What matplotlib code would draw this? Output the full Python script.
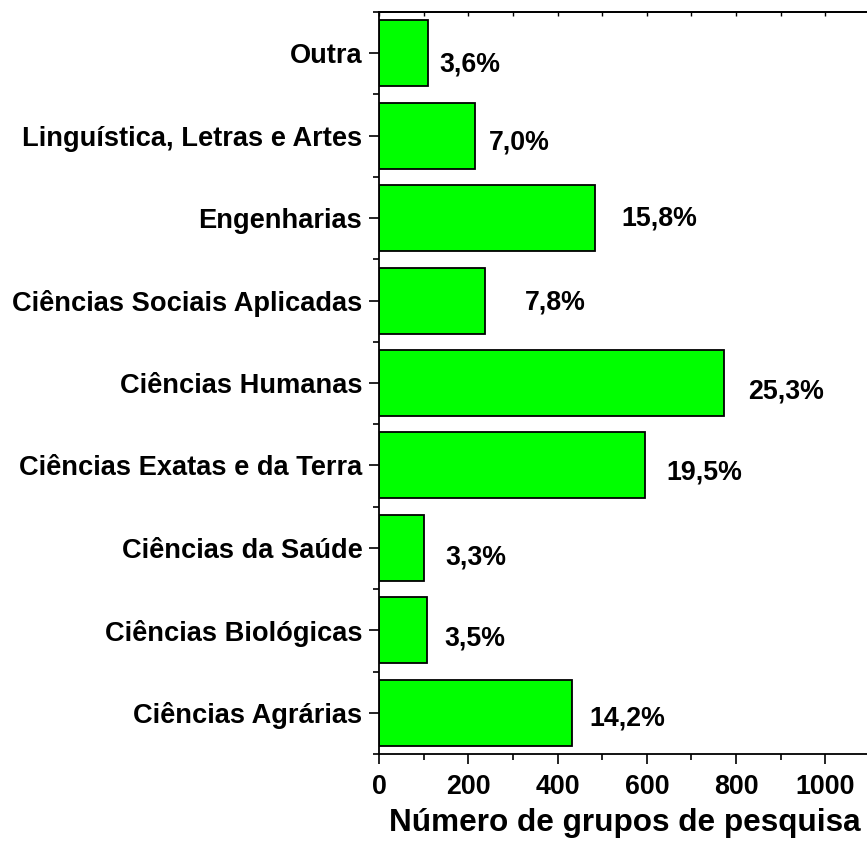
import matplotlib
matplotlib.use("Agg")
import matplotlib.pyplot as plt
from matplotlib.ticker import MultipleLocator, FixedLocator

categories = ["Ciências Agrárias", "Ciências Biológicas", "Ciências da Saúde",
              "Ciências Exatas e da Terra", "Ciências Humanas",
              "Ciências Sociais Aplicadas", "Engenharias",
              "Linguística, Letras e Artes", "Outra"]
counts = [433, 107, 101, 595, 772, 238, 483, 214, 110]
pct_labels = ["14,2%", "3,5%", "3,3%", "19,5%", "25,3%", "7,8%", "15,8%", "7,0%", "3,6%"]
xticks = [0, 200, 400, 600, 800, 1000]
xlabel = "Número de grupos de pesquisa"

# layout: label offsets in pixels (dx right of bar end, dy downward of bar centre)
label_dx = [17, 18, 21, 22, 25, 40, 27, 14, 11]
label_dy = [3.0, 5.5, 7.1, 4.3, 5.8, -0.3, -2.1, 4.0, 8.5]

plt.rcParams['font.family'] = ['Liberation Sans', 'DejaVu Sans']
plt.rcParams['font.weight'] = 'bold'

W, H = 867, 848
fig = plt.figure(figsize=(W/100, H/100), dpi=100)
left, right, top, bottom = 379, 870, 12, 754
ax = fig.add_axes([left/W, 1 - bottom/H, (right-left)/W, (bottom-top)/H])

y = list(range(len(categories)))
ax.barh(y, counts, height=0.8, color="#00ff00", edgecolor="black", linewidth=1.3)
ax.set_ylim(-0.5, len(categories) - 0.5)
ax.set_xlim(0, 1100)

fs = 19.3
cap_half = fs * 100 / 72 * 0.716 / 2
for i, (v, t) in enumerate(zip(counts, pct_labels)):
    ax.annotate(t, xy=(v, i), xytext=(label_dx[i] * 0.72, -(label_dy[i] + cap_half) * 0.72),
                textcoords='offset points', ha='left', va='baseline',
                fontsize=fs, fontweight='bold')

ax.set_yticks(y)
ax.set_yticklabels(categories, fontsize=19.6, fontweight='bold')
ax.yaxis.set_minor_locator(FixedLocator([i - 0.5 for i in range(len(categories) + 1)]))
ax.set_xticks(xticks)
ax.set_xticklabels([str(v) for v in xticks], fontsize=fs, fontweight='bold')
ax.xaxis.set_minor_locator(MultipleLocator(100))

ax.tick_params(axis='both', which='major', length=7, width=1.2, direction='out')
ax.tick_params(axis='y', which='major', pad=5)
ax.tick_params(axis='x', which='major', pad=7.5)
ax.tick_params(axis='both', which='minor', length=4, width=1.2, direction='out')
ax.set_xlabel(xlabel, fontsize=22.7, fontweight='bold', labelpad=6)

for s in ['left', 'bottom', 'top']:
    ax.spines[s].set_linewidth(1.3)
ax.spines['right'].set_visible(False)

sec = ax.secondary_xaxis('top')
sec.set_xticks(list(range(0, 1101, 100)))
sec.set_xticklabels([])
sec.tick_params(direction='in', length=3, width=1.0)
sec.spines['top'].set_linewidth(1.3)

fig.savefig("out.png", dpi=100)
